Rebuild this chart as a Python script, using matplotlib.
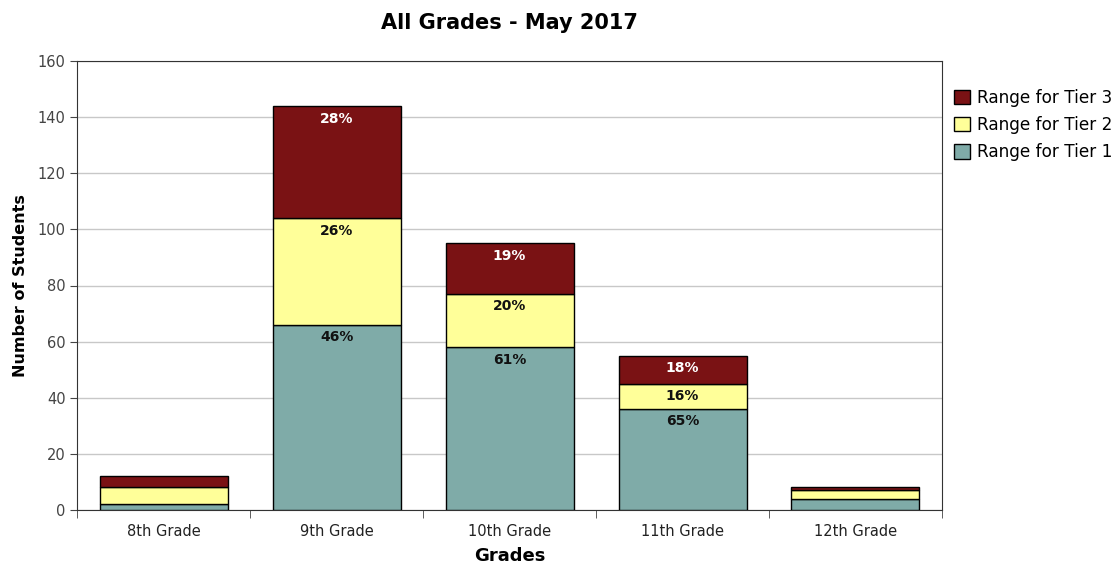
import numpy as np
import matplotlib.pyplot as plt

plt.rcParams['font.family'] = ['DejaVu Sans']

# Data
grades = ['8th Grade', '9th Grade', '10th Grade', '11th Grade', '12th Grade']
tier1 = [2, 66, 58, 36, 4]
tier2 = [6, 38, 19, 9, 3]
tier3 = [4, 40, 18, 10, 1]
pct1 = ['', '46%', '61%', '65%', '']
pct2 = ['', '26%', '20%', '16%', '']
pct3 = ['', '28%', '19%', '18%', '']

c1, c2, c3 = '#7faba8', '#ffff99', '#7a1214'

fig = plt.figure(figsize=(11.2, 5.71), dpi=100)
ax = fig.add_axes([0.069, 0.107, 0.772, 0.786])

x = np.arange(len(grades))
w = 0.74
b1 = ax.bar(x, tier1, w, color=c1, edgecolor='black', linewidth=1, label='Range for Tier 1', zorder=3)
b2 = ax.bar(x, tier2, w, bottom=tier1, color=c2, edgecolor='black', linewidth=1, label='Range for Tier 2', zorder=3)
bottom3 = np.array(tier1) + np.array(tier2)
b3 = ax.bar(x, tier3, w, bottom=bottom3, color=c3, edgecolor='black', linewidth=1, label='Range for Tier 3', zorder=3)

# percentage labels just inside the top of each segment
for i in range(len(grades)):
    tops = [tier1[i], tier1[i] + tier2[i], bottom3[i] + tier3[i]]
    for top, txt, col in zip(tops, [pct1[i], pct2[i], pct3[i]], ['#111111', '#111111', 'white']):
        if txt:
            ax.annotate(txt, (x[i], top), xytext=(0, -4), textcoords='offset points',
                        ha='center', va='top', fontsize=10, fontweight='bold', color=col, zorder=4)

ax.set_xlim(-0.5, len(grades) - 0.5)
ax.set_ylim(0, 160)
ax.set_yticks(range(0, 161, 20))
ax.yaxis.grid(True, color='#c8c8c8', linewidth=1, zorder=0)
ax.set_xticks(x)
ax.set_xticklabels(grades)
ax.set_xticks(np.arange(-0.5, len(grades), 1), minor=True)
ax.tick_params(axis='x', which='major', length=0, pad=10, labelsize=10.5, labelcolor='#222222')
ax.tick_params(axis='x', which='minor', length=6, color='#444444')
ax.tick_params(axis='y', length=5, labelsize=10.5, labelcolor='#444444', color='#444444')
for s in ax.spines.values():
    s.set_color('#333333')

ax.set_title('All Grades - May 2017', fontsize=15, fontweight='bold', pad=23)
ax.set_xlabel('Grades', fontsize=13, fontweight='bold', labelpad=6)
ax.set_ylabel('Number of Students', fontsize=11.5, fontweight='bold', labelpad=7)

handles = [b3, b2, b1]
ax.legend(handles, [h.get_label() for h in handles], loc='upper left', bbox_to_anchor=(1.0, 0.965),
          frameon=False, fontsize=12.2, handlelength=0.95, handleheight=0.95, borderaxespad=0.3,
          labelspacing=0.55, handletextpad=0.4)

fig.savefig('out.png', dpi=100)
